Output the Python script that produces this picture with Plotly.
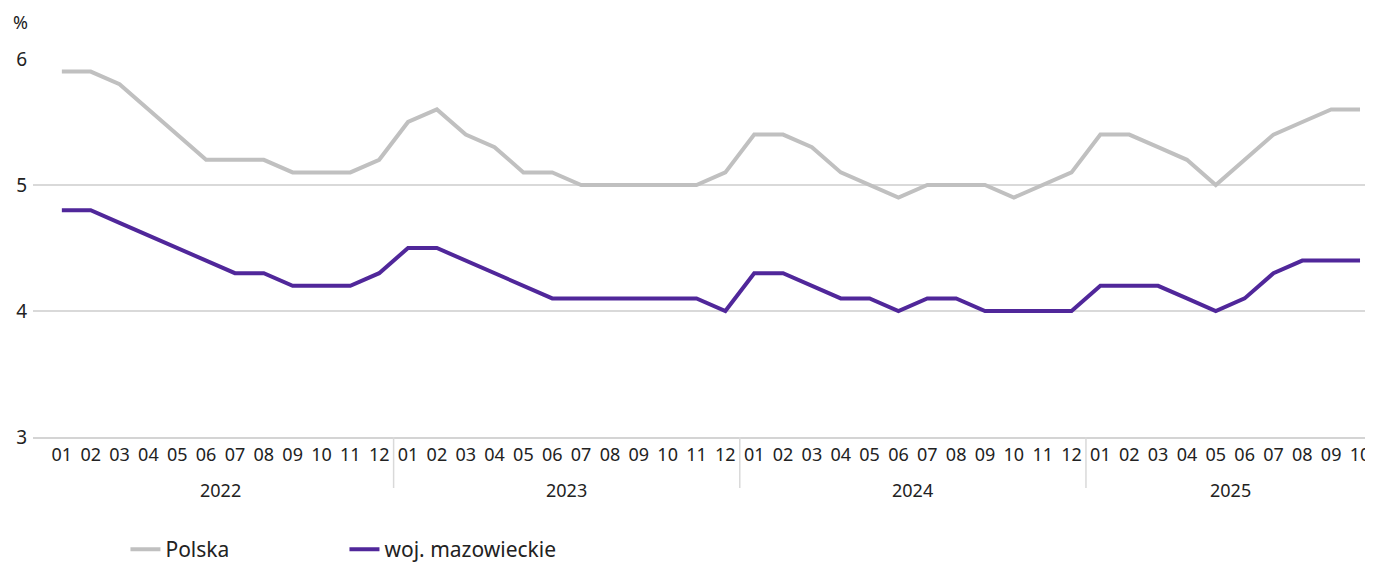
import plotly.graph_objects as go

years = ["2022"] * 12 + ["2023"] * 12 + ["2024"] * 12 + ["2025"] * 10
months = [f"{m:02d}" for m in range(1, 13)] * 3 + [f"{m:02d}" for m in range(1, 11)]

polska = [5.9, 5.9, 5.8, 5.6, 5.4, 5.2, 5.2, 5.2, 5.1, 5.1, 5.1, 5.2,
          5.5, 5.6, 5.4, 5.3, 5.1, 5.1, 5.0, 5.0, 5.0, 5.0, 5.0, 5.1,
          5.4, 5.4, 5.3, 5.1, 5.0, 4.9, 5.0, 5.0, 5.0, 4.9, 5.0, 5.1,
          5.4, 5.4, 5.3, 5.2, 5.0, 5.2, 5.4, 5.5, 5.6, 5.6]
mazowieckie = [4.8, 4.8, 4.7, 4.6, 4.5, 4.4, 4.3, 4.3, 4.2, 4.2, 4.2, 4.3,
               4.5, 4.5, 4.4, 4.3, 4.2, 4.1, 4.1, 4.1, 4.1, 4.1, 4.1, 4.0,
               4.3, 4.3, 4.2, 4.1, 4.1, 4.0, 4.1, 4.1, 4.0, 4.0, 4.0, 4.0,
               4.2, 4.2, 4.2, 4.1, 4.0, 4.1, 4.3, 4.4, 4.4, 4.4]

FONT = "Noto Sans, Open Sans, sans-serif"
TXT = "#222222"
GRID = "#d9d9d9"

idx = list(range(len(months)))

fig = go.Figure()
fig.add_trace(go.Scatter(x=idx, y=polska, mode="lines", name="Polska",
                         line=dict(color="#c0c0c0", width=4)))
fig.add_trace(go.Scatter(x=idx, y=mazowieckie, mode="lines", name="woj. mazowieckie",
                         line=dict(color="#50279a", width=4)))

# year group dividers and labels derived from the years list
shapes = []
annotations = []
groups = []
for i, y in enumerate(years):
    if not groups or groups[-1][0] != y:
        groups.append([y, i, i])
    else:
        groups[-1][2] = i
for gi, (y, s, e) in enumerate(groups):
    if gi > 0:
        shapes.append(dict(type="line", xref="x", yref="paper", x0=s - 0.5, x1=s - 0.5,
                           y0=0, y1=-0.135, line=dict(color=GRID, width=1.5)))
    annotations.append(dict(text=y, xref="x", yref="paper", x=(s + e) / 2, y=-0.14,
                            xanchor="center", yanchor="middle", showarrow=False,
                            font=dict(size=18, color=TXT)))

annotations.append(dict(text="%", xref="paper", yref="paper", x=-0.009, y=1.098,
                        xanchor="center", yanchor="middle", showarrow=False,
                        font=dict(size=18, color=TXT)))

fig.update_layout(
    width=1365, height=557,
    margin=dict(l=25, r=0, t=51, b=128, autoexpand=False),
    paper_bgcolor="white", plot_bgcolor="white",
    font=dict(family=FONT, size=18, color=TXT),
    showlegend=True,
    legend=dict(orientation="h", x=0.069, y=-0.298, xanchor="left", yanchor="middle",
                font=dict(size=21, color=TXT), entrywidth=174, traceorder="normal"),
    xaxis=dict(range=[-1, 45.45], tickvals=idx, ticktext=months, showgrid=False,
               showline=True, linecolor="#d4d4d4", linewidth=2, zeroline=False,
               tickfont=dict(size=18, color=TXT), ticks="", ticklabelstandoff=0,
               automargin=False),
    yaxis=dict(range=[3, 6], tickvals=[3, 4, 5, 6], showgrid=True, gridcolor=GRID,
               gridwidth=1.5, zeroline=False, ticks="", ticklabelstandoff=5,
               tickfont=dict(size=19, color=TXT), automargin=False),
    shapes=shapes,
    annotations=annotations,
)

fig.write_html("out.html")
